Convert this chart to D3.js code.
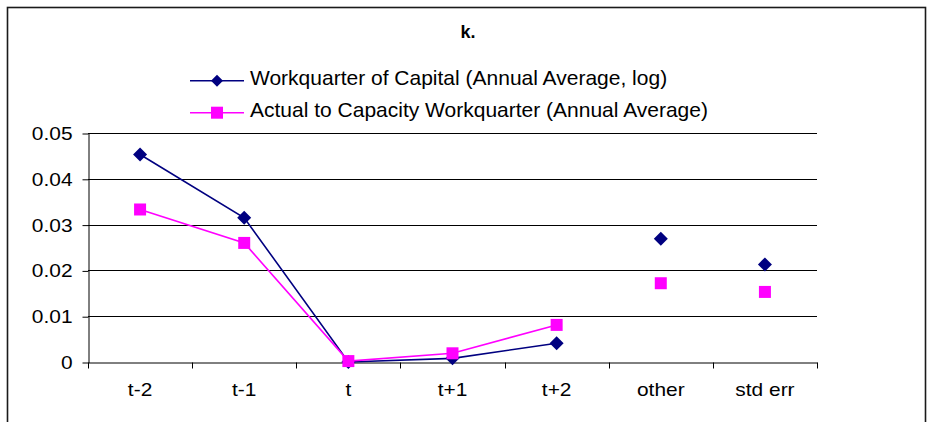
<!DOCTYPE html>
<html>
<head>
<meta charset="utf-8">
<script src="https://cdn.jsdelivr.net/npm/d3@7"></script>
<style>
  html, body { margin: 0; padding: 0; background: #fff; }
  svg { display: block; font-family: "Liberation Sans", Arial, sans-serif; }
</style>
</head>
<body>
<svg id="chart" width="932" height="422"></svg>
<script>
// Categories along the horizontal axis
const categories = ["t-2", "t-1", "t", "t+1", "t+2", "other", "std err"];
// Categories joined by a line (the last two are stand-alone points)
const linkedCategories = ["t-2", "t-1", "t", "t+1", "t+2"];

// Series values
const workquarterCapital = [0.0453, 0.0315, 0.0000, 0.0008, 0.0041, 0.0269, 0.0213];
const capacityWorkquarter = [0.0333, 0.0260, 0.0002, 0.0019, 0.0081, 0.0172, 0.0153];

const seriesNames = [
  "Workquarter of Capital (Annual Average, log)",
  "Actual to Capacity Workquarter (Annual Average)"
];

// Value-axis ticks and their labels
const yTicks = [0, 0.01, 0.02, 0.03, 0.04, 0.05];
const yTickLabels = ["0", "0.01", "0.02", "0.03", "0.04", "0.05"];

const titleText = "k.";

const svg = d3.select("#chart");

// Outer frame
svg.append("rect")
  .attr("x", 7.5).attr("y", 7.5)
  .attr("width", 918).attr("height", 440)
  .attr("fill", "none").attr("stroke", "#1a1a1a").attr("stroke-width", 1.6);

const plot = { left: 88, right: 817, top: 133, bottom: 362 };

const x = d3.scaleBand().domain(categories).range([plot.left, plot.right]);
const y = d3.scaleLinear().domain([0, 0.05]).range([plot.bottom, plot.top]);

const stretch = 1.1; // horizontal widening of axis text
function widen(sel) {
  sel.each(function () {
    const w = this.getComputedTextLength();
    d3.select(this).attr("textLength", w * stretch).attr("lengthAdjust", "spacingAndGlyphs");
  });
}

// Gridlines
svg.append("g")
  .selectAll("line")
  .data(yTicks.filter(d => d > 0))
  .join("line")
  .attr("x1", plot.left).attr("x2", plot.right)
  .attr("y1", d => Math.round(y(d)) + 0.5).attr("y2", d => Math.round(y(d)) + 0.5)
  .attr("stroke", "#000").attr("stroke-width", 1);

// Value axis
const yAxis = svg.append("g")
  .attr("transform", `translate(${plot.left + 0.5},0.5)`)
  .call(d3.axisLeft(y)
    .tickValues(yTicks)
    .tickFormat((d, i) => yTickLabels[i])
    .tickSize(6)
    .tickSizeOuter(0)
    .tickPadding(10));
yAxis.selectAll("path, line").attr("stroke", "#000");
yAxis.selectAll("text")
  .attr("font-size", 19).attr("fill", "#000")
  .attr("font-family", "Liberation Sans, Arial, sans-serif")
  .call(widen);
yAxis.selectAll("text").attr("text-anchor", "end");

// Category axis: labels centered in each band
const xAxis = svg.append("g")
  .attr("transform", `translate(0,${Math.round(y(0)) + 0.5})`)
  .call(d3.axisBottom(x).tickSize(0).tickSizeOuter(0).tickPadding(20));
xAxis.select(".domain").attr("stroke", "#000");
xAxis.selectAll("text")
  .attr("font-size", 19).attr("fill", "#000")
  .attr("font-family", "Liberation Sans, Arial, sans-serif")
  .call(widen);

// Tick marks between categories
const boundaries = categories.map(c => x(c)).concat([x.range()[1]]);
xAxis.append("g")
  .selectAll("line")
  .data(boundaries)
  .join("line")
  .attr("x1", d => Math.round(d) + 0.5).attr("x2", d => Math.round(d) + 0.5)
  .attr("y1", 0).attr("y2", 6)
  .attr("stroke", "#000");

const cx = c => x(c) + x.bandwidth() / 2;

const series = [
  { name: seriesNames[0], values: workquarterCapital, color: "#000080", shape: "diamond" },
  { name: seriesNames[1], values: capacityWorkquarter, color: "#FF00FF", shape: "square" }
];

const line = d3.line()
  .x(d => cx(d.cat))
  .y(d => y(d.v));

// Marker outline of a given overall width
function markerPath(shape, w) {
  const r = w / 2;
  if (shape === "square") {
    return `M${-r},${-r}H${r}V${r}H${-r}Z`;
  }
  return `M0,${-r}L${r},0L0,${r}L${-r},0Z`;
}

series.forEach(s => {
  const pts = categories.map((c, i) => ({ cat: c, v: s.values[i] }));
  const linked = pts.filter(p => linkedCategories.includes(p.cat));
  const g = svg.append("g");
  g.append("path")
    .datum(linked)
    .attr("d", line)
    .attr("fill", "none")
    .attr("stroke", s.color)
    .attr("stroke-width", 1.6);
  g.selectAll("path.marker")
    .data(pts)
    .join("path")
    .attr("class", "marker")
    .attr("transform", d => `translate(${cx(d.cat)},${y(d.v)})`)
    .attr("d", markerPath(s.shape, s.shape === "square" ? 12 : 14))
    .attr("fill", s.color);
});

// Title
svg.append("text")
  .attr("x", 468).attr("y", 38)
  .attr("text-anchor", "middle")
  .attr("font-size", 18).attr("font-weight", "bold")
  .attr("fill", "#000")
  .text(titleText);

// Legend
const legend = svg.append("g");
const legendRows = [80.7, 112.7];
series.forEach((s, i) => {
  const row = legend.append("g").attr("transform", `translate(0,${legendRows[i]})`);
  row.append("line")
    .attr("x1", 190).attr("x2", 244)
    .attr("y1", 0).attr("y2", 0)
    .attr("stroke", s.color).attr("stroke-width", 1.6);
  row.append("path")
    .attr("transform", "translate(217,0)")
    .attr("d", markerPath(s.shape, 12))
    .attr("fill", s.color);
  row.append("text")
    .attr("x", 250).attr("y", 4.5)
    .attr("font-size", 21).attr("fill", "#000")
    .text(s.name);
});
</script>
</body>
</html>
